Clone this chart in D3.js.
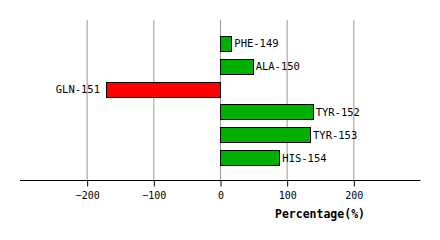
<!DOCTYPE html>
<html>
<head>
<meta charset="utf-8">
<script src="https://cdn.jsdelivr.net/npm/d3@7"></script>
<style>
body { margin: 0; background: #fff; }
</style>
</head>
<body>
<script>
var residues = ["PHE-149", "ALA-150", "GLN-151", "TYR-152", "TYR-153", "HIS-154"];
var percentages = [17, 49, -171, 139, 135, 89];
var tickValues = [-200, -100, 0, 100, 200];
var axisTitle = "Percentage(%)";

var w = 440;
var h = 240;
var font = "'DejaVu Sans Mono', monospace";

var svg = d3.select("body")
			.append("svg")
			.attr("width", w)
			.attr("height", h);

var xScale = d3.scaleLinear()
				.domain([-300, 300])
				.range([20, 420]);

var yScale = d3.scaleBand()
				.domain(residues)
				.range([32, 169])
				.paddingInner(0.34)
				.paddingOuter(0.17);

var axisY = 180;

// grid lines
svg.selectAll(".grid")
	.data(tickValues)
	.enter()
	.append("line")
	.attr("x1", function(d){ return xScale(d) + 0.5; })
	.attr("x2", function(d){ return xScale(d) + 0.5; })
	.attr("y1", 20)
	.attr("y2", axisY)
	.attr("stroke", "#999")
	.attr("stroke-width", 1);

// bars
svg.selectAll(".bar")
	.data(percentages)
	.enter()
	.append("rect")
	.attr("x", function(d){ return Math.round(xScale(Math.min(0, d))) + 0.5; })
	.attr("y", function(d, i){ return Math.round(yScale(residues[i])) + 0.5; })
	.attr("width", function(d){ return Math.round(Math.abs(xScale(d) - xScale(0))); })
	.attr("height", Math.round(yScale.bandwidth()))
	.attr("fill", function(d){ return d < 0 ? "#ff0000" : "#00b000"; })
	.attr("stroke", "#000")
	.attr("stroke-width", 1);

// labels
svg.selectAll(".label")
	.data(percentages)
	.enter()
	.append("text")
	.attr("x", function(d){ return d < 0 ? xScale(d) - 6 : xScale(d) + 3; })
	.attr("y", function(d, i){ return yScale(residues[i]) + yScale.bandwidth() / 2 + 4; })
	.attr("text-anchor", function(d){ return d < 0 ? "end" : "start"; })
	.attr("font-family", font)
	.attr("font-size", "10.5px")
	.attr("fill", "#000")
	.text(function(d, i){ return residues[i]; });

// x axis
var xAxis = d3.axisBottom(xScale)
			.tickValues(tickValues)
			.tickSize(6)
			.tickFormat(function(d){ return d < 0 ? "\u2212" + Math.abs(d) : d; });

var gx = svg.append("g")
	.attr("transform", "translate(0.5," + (axisY + 0.5) + ")")
	.call(xAxis);

gx.select(".domain").remove();
gx.append("line")
	.attr("x1", 19.5)
	.attr("x2", 420)
	.attr("stroke", "#000");
gx.selectAll(".tick line").attr("stroke", "#000");
gx.selectAll(".tick text")
	.attr("font-family", font)
	.attr("font-size", "10px")
	.attr("fill", "#000")
	.attr("dy", "0.95em");

svg.append("text")
	.attr("x", 320)
	.attr("y", 218)
	.attr("text-anchor", "middle")
	.attr("font-family", font)
	.attr("font-size", "11.5px")
	.attr("font-weight", "bold")
	.attr("fill", "#000")
	.text(axisTitle);
</script>
</body>
</html>
